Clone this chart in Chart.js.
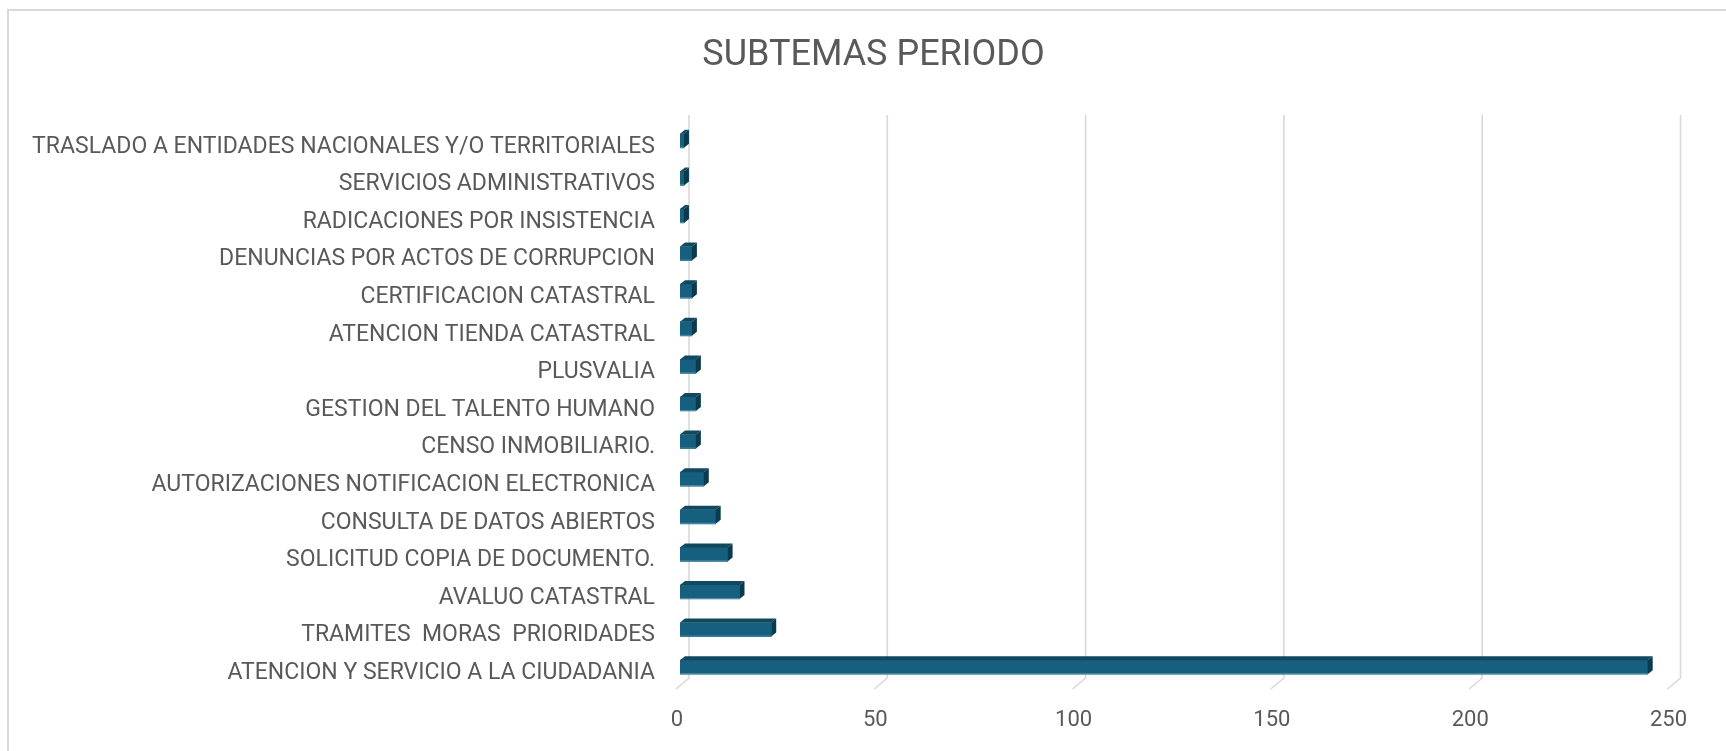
<!DOCTYPE html>
<html><head><meta charset="utf-8">
<script src="https://cdn.jsdelivr.net/npm/chart.js@4.4.1/dist/chart.umd.min.js"></script>
<style>html,body{margin:0;padding:0;background:#fff;overflow:hidden}canvas{display:block}</style>
</head><body>
<canvas id="c" width="1726" height="751"></canvas>
<script>
const chartTitle = 'SUBTEMAS PERIODO';
const categories = [
  'TRASLADO A ENTIDADES NACIONALES Y/O TERRITORIALES',
  'SERVICIOS ADMINISTRATIVOS',
  'RADICACIONES POR INSISTENCIA',
  'DENUNCIAS POR ACTOS DE CORRUPCION',
  'CERTIFICACION CATASTRAL',
  'ATENCION TIENDA CATASTRAL',
  'PLUSVALIA',
  'GESTION DEL TALENTO HUMANO',
  'CENSO INMOBILIARIO.',
  'AUTORIZACIONES NOTIFICACION ELECTRONICA',
  'CONSULTA DE DATOS ABIERTOS',
  'SOLICITUD COPIA DE DOCUMENTO.',
  'AVALUO CATASTRAL',
  'TRAMITES  MORAS  PRIORIDADES',
  'ATENCION Y SERVICIO A LA CIUDADANIA'
];
const values = [1, 1, 1, 3, 3, 3, 4, 4, 4, 6, 9, 12, 15, 23, 244];
const xTicks = [0, 50, 100, 150, 200, 250];

const TEXT = '#595959';
const GRID = '#d9d9d9';
const FRONT = '#175f7f';
const TOP = '#10495f';
const SIDE = '#0b3a4e';

const frame = {
  id: 'frame',
  beforeDraw(chart) {
    const ctx = chart.ctx;
    ctx.save();
    ctx.fillStyle = '#fff';
    ctx.fillRect(0, 0, chart.width, chart.height);
    ctx.strokeStyle = GRID;
    ctx.lineWidth = 2;
    ctx.beginPath();
    ctx.moveTo(8, chart.height + 5);
    ctx.lineTo(8, 10);
    ctx.lineTo(chart.width + 5, 10);
    ctx.stroke();
    ctx.restore();
  }
};

const titleShift = {
  id: 'titleShift',
  afterLayout(chart) {
    const t = chart.titleBlock;
    if (t) { t.left = 75.5; t.right = 1671.5; }
  }
};

const backWall = {
  id: 'backWall',
  beforeDatasetsDraw(chart) {
    const ctx = chart.ctx;
    const xs = chart.scales.x;
    ctx.save();
    ctx.strokeStyle = GRID;
    ctx.lineWidth = 1.6;
    xTicks.forEach(v => {
      const px = xs.getPixelForValue(v);
      ctx.beginPath();
      ctx.moveTo(px + 9, 115);
      ctx.lineTo(px + 9, 678);
      ctx.lineTo(px - 4, 689);
      ctx.stroke();
    });
    ctx.restore();
  }
};

const bars3d = {
  id: 'bars3d',
  afterDatasetsDraw(chart) {
    const ctx = chart.ctx;
    const meta = chart.getDatasetMeta(0);
    const dx = 5, dy = 4;
    ctx.save();
    meta.data.forEach(el => {
      const p = el.getProps(['x', 'y', 'base', 'height'], true);
      const top = p.y - p.height / 2, bot = p.y + p.height / 2;
      const x0 = p.base, x1 = p.x;
      ctx.fillStyle = TOP;
      ctx.beginPath();
      ctx.moveTo(x0, top);
      ctx.lineTo(x1, top);
      ctx.lineTo(x1 + dx, top - dy);
      ctx.lineTo(x0 + dx, top - dy);
      ctx.closePath();
      ctx.fill();
      ctx.fillStyle = SIDE;
      ctx.beginPath();
      ctx.moveTo(x1, top);
      ctx.lineTo(x1 + dx, top - dy);
      ctx.lineTo(x1 + dx, bot - dy);
      ctx.lineTo(x1, bot);
      ctx.closePath();
      ctx.fill();
      ctx.fillStyle = '#4f8eaa';
      ctx.fillRect(x0, bot - 1, x1 - x0, 1);
    });
    ctx.restore();
  }
};

new Chart(document.getElementById('c'), {
  type: 'bar',
  data: {
    labels: categories,
    datasets: [{
      data: values,
      backgroundColor: FRONT,
      borderWidth: 0,
      barThickness: 14
    }]
  },
  options: {
    indexAxis: 'y',
    responsive: false,
    animation: false,
    layout: { padding: { left: 0, right: 54.5, top: 0, bottom: 0 } },
    plugins: {
      legend: { display: false },
      tooltip: { enabled: false },
      title: {
        display: true,
        text: chartTitle,
        color: TEXT,
        font: { family: 'Roboto', size: 36, weight: 'normal', lineHeight: 1.2 },
        padding: { top: 34.3, bottom: 44.5 }
      }
    },
    scales: {
      x: {
        type: 'linear',
        min: 0, max: 250,
        afterBuildTicks(s) { s.ticks = xTicks.map(v => ({ value: v })); },
        afterFit(s) { s.height = 65; },
        grid: { display: false, drawTicks: false, tickLength: 0 },
        border: { display: false },
        ticks: {
          color: TEXT,
          font: { family: 'Roboto', size: 22 },
          padding: 20.8,
          labelOffset: -3,
          maxRotation: 0,
          autoSkip: false
        }
      },
      y: {
        afterFit(s) { s.width = 680; },
        grid: { display: false, drawTicks: false, tickLength: 0 },
        border: { display: false },
        ticks: {
          color: TEXT,
          font: { family: 'Roboto', size: 23 },
          padding: 25,
          labelOffset: 6,
          autoSkip: false
        }
      }
    }
  },
  plugins: [frame, titleShift, backWall, bars3d]
});
</script>
</body></html>
